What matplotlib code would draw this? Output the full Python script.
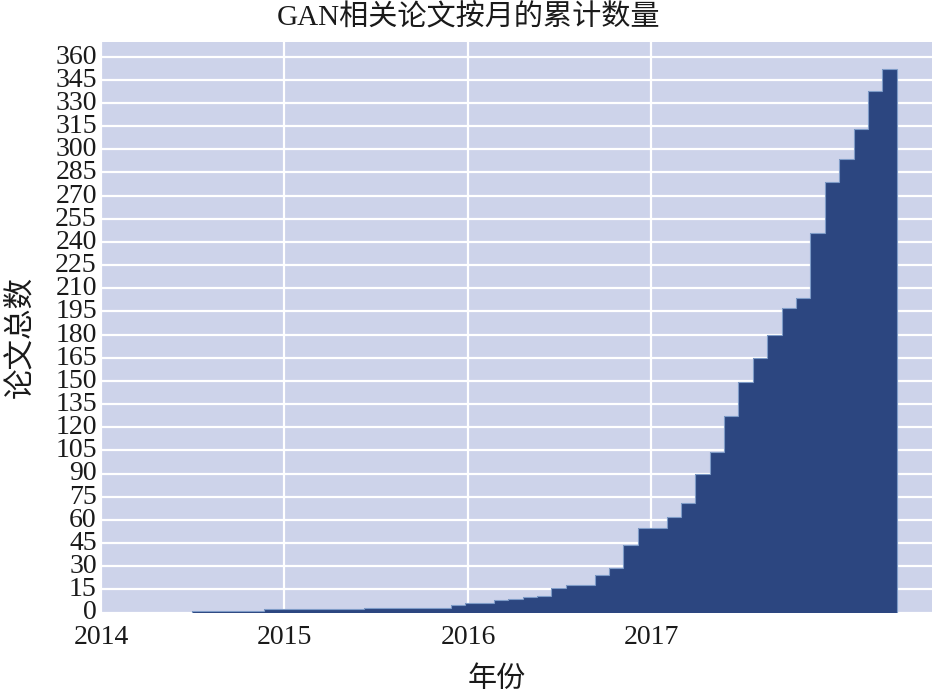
"""GAN相关论文按月的累计数量 -- cumulative step chart."""
import numpy as np
import matplotlib
matplotlib.use("Agg")
import matplotlib.pyplot as plt

# cumulative count per month, first month = paper release (mid 2014)
counts = [1, 1, 1, 1, 1,
          2, 2, 2, 2, 2, 2, 2,
          3, 3, 3, 3, 3, 3,
          5, 6, 6, 8, 9, 10, 11,
          16, 18, 18, 24, 29, 44, 55, 55, 62, 71,
          90, 104, 127, 149, 165, 180, 197, 204,
          246, 279, 294, 313, 338, 352]
years = ["2014", "2015", "2016", "2017"]
y_ticks = list(range(0, 361, 15))

BG = "#cdd3ea"
FILL = "#2c4680"
INK = "#1a1a1a"
plt.rcParams["font.family"] = ["Liberation Serif", "Noto Sans CJK SC", "DejaVu Sans"]

fig = plt.figure(figsize=(9.37, 6.95), dpi=100)
ax = fig.add_axes([0.1078, 0.1187, 0.8869, 0.8213])
ax.set_facecolor(BG)
ax.set_axisbelow(True)

edges = np.arange(len(counts) + 1)
ax.stairs(counts, edges, fill=True, color=FILL, lw=0)
ax.stairs(counts, edges, fill=False, color="#7f9cc8", lw=0.8)

# year ticks: ~12.75 step-units apart, 2014 on the left edge
x0, per_year = -6.30, 12.75
ax.set_xticks([x0 + per_year * k for k in range(len(years))])
ax.set_xticklabels(years)
ax.set_xlim(x0, 51.45)
ax.set_yticks(y_ticks)
ax.set_ylim(0, 369.7)

ax.grid(True, color="white", lw=1.6)
for s in ax.spines.values():
    s.set_visible(False)
ax.tick_params(length=0, labelsize=20, colors=INK)
ax.tick_params(axis="x", pad=9)
ax.tick_params(axis="y", pad=3)
for lab in ax.get_yticklabels():
    lab.set_verticalalignment("baseline")
    lab.set_y(-0.0)
# shift y labels up a touch, as in the original
import matplotlib.transforms as mtrans
offset = mtrans.ScaledTranslation(0, -5 / 72, fig.dpi_scale_trans)
for lab in ax.get_yticklabels():
    lab.set_transform(lab.get_transform() + offset)

fig.text(0.5, 0.974, "GAN相关论文按月的累计数量", fontsize=21, color=INK,
         ha="center", va="center")
fig.text(0.022, 0.515, "论文总数", fontsize=22, color=INK,
         rotation=90, ha="center", va="center")
fig.text(0.53, 0.022, "年份", fontsize=21, color=INK, ha="center", va="center")

plt.savefig("out.png", dpi=100, facecolor="white")
plt.close()
